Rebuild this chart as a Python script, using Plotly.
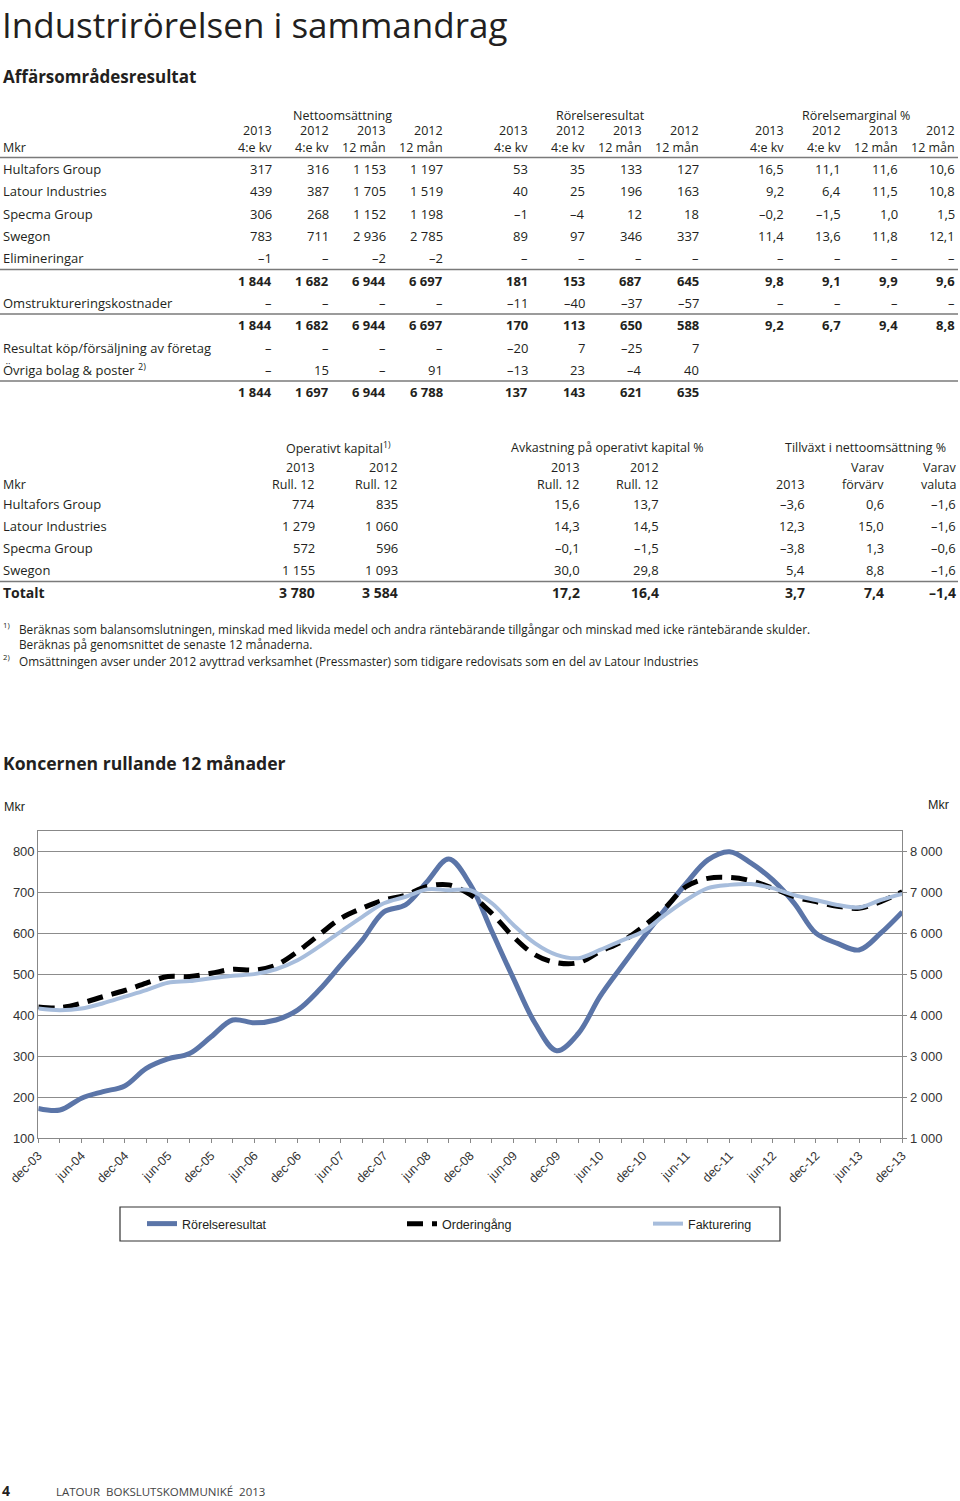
import plotly.graph_objects as go

W, H = 960, 1501
FONT = 'Open Sans, Noto Sans, sans-serif'
ARIAL = 'Liberation Sans, Arial, sans-serif'
NARROW = 'Liberation Sans Narrow, Arial Narrow, Liberation Sans, sans-serif'
INK = '#231f20'
RULE = '#7a7a7a'

# ---- Affärsområdesresultat (table 1)
t1_rows = ['Hultafors Group', 'Latour Industries', 'Specma Group', 'Swegon', 'Elimineringar', '',
           'Omstruktureringskostnader', '', 'Resultat köp/försäljning av företag',
           'Övriga bolag & poster <sup>2)</sup>', '']
t1_bold = [5, 7, 10]
nettoomsattning = [
    ['317', '316', '1 153', '1 197'],
    ['439', '387', '1 705', '1 519'],
    ['306', '268', '1 152', '1 198'],
    ['783', '711', '2 936', '2 785'],
    ['–1', '–', '–2', '–2'],
    ['1 844', '1 682', '6 944', '6 697'],
    ['–', '–', '–', '–'],
    ['1 844', '1 682', '6 944', '6 697'],
    ['–', '–', '–', '–'],
    ['–', '15', '–', '91'],
    ['1 844', '1 697', '6 944', '6 788'],
]
rorelseresultat = [
    ['53', '35', '133', '127'],
    ['40', '25', '196', '163'],
    ['–1', '–4', '12', '18'],
    ['89', '97', '346', '337'],
    ['–', '–', '–', '–'],
    ['181', '153', '687', '645'],
    ['–11', '–40', '–37', '–57'],
    ['170', '113', '650', '588'],
    ['–20', '7', '–25', '7'],
    ['–13', '23', '–4', '40'],
    ['137', '143', '621', '635'],
]
rorelsemarginal = [
    ['16,5', '11,1', '11,6', '10,6'],
    ['9,2', '6,4', '11,5', '10,8'],
    ['–0,2', '–1,5', '1,0', '1,5'],
    ['11,4', '13,6', '11,8', '12,1'],
    ['–', '–', '–', '–'],
    ['9,8', '9,1', '9,9', '9,6'],
    ['–', '–', '–', '–'],
    ['9,2', '6,7', '9,4', '8,8'],
    ['', '', '', ''],
    ['', '', '', ''],
    ['', '', '', ''],
]
t1_years = ['2013', '2012', '2013', '2012']
t1_periods = ['4:e kv', '4:e kv', '12 mån', '12 mån']

# ---- second table
t2_rows = ['Hultafors Group', 'Latour Industries', 'Specma Group', 'Swegon', 'Totalt']
operativt_kapital = [['774', '835'], ['1 279', '1 060'], ['572', '596'], ['1 155', '1 093'], ['3 780', '3 584']]
avkastning = [['15,6', '13,7'], ['14,3', '14,5'], ['–0,1', '–1,5'], ['30,0', '29,8'], ['17,2', '16,4']]
tillvaxt = [['–3,6', '0,6', '–1,6'], ['12,3', '15,0', '–1,6'], ['–3,8', '1,3', '–0,6'],
            ['5,4', '8,8', '–1,6'], ['3,7', '7,4', '–1,4']]

# ---- Koncernen rullande 12 månader (quarterly)
kvartal = ['dec-03', 'mar-04', 'jun-04', 'sep-04', 'dec-04', 'mar-05', 'jun-05', 'sep-05', 'dec-05',
           'mar-06', 'jun-06', 'sep-06', 'dec-06', 'mar-07', 'jun-07', 'sep-07', 'dec-07',
           'mar-08', 'jun-08', 'sep-08', 'dec-08', 'mar-09', 'jun-09', 'sep-09', 'dec-09',
           'mar-10', 'jun-10', 'sep-10', 'dec-10', 'mar-11', 'jun-11', 'sep-11', 'dec-11',
           'mar-12', 'jun-12', 'sep-12', 'dec-12', 'mar-13', 'jun-13', 'sep-13', 'dec-13']
rorelseresultat_mkr = [173, 169, 198, 214, 228, 271, 294, 307, 348, 389, 382, 389, 413, 462, 523, 584,
                       653, 670, 727, 782, 720, 605, 490, 381, 314, 356, 446, 519, 590, 658, 723, 780,
                       800, 772, 731, 674, 601, 576, 560, 601, 653]
orderingang = [4210, 4190, 4300, 4460, 4610, 4790, 4950, 4950, 5030, 5130, 5110, 5230, 5560, 5970, 6370,
               6620, 6820, 6940, 7150, 7190, 6950, 6490, 5920, 5480, 5290, 5290, 5560, 5800, 6170, 6620,
               7150, 7350, 7370, 7290, 7110, 6900, 6780, 6670, 6620, 6780, 7020]
fakturering = [4170, 4130, 4170, 4300, 4460, 4620, 4800, 4840, 4910, 4970, 5010, 5130, 5350, 5680, 6050,
               6410, 6740, 6900, 7080, 7060, 7060, 6740, 6210, 5760, 5480, 5400, 5600, 5830, 6050, 6450,
               6820, 7110, 7190, 7210, 7110, 6940, 6820, 6700, 6640, 6820, 6970]
left_ticks = [100, 200, 300, 400, 500, 600, 700, 800]
right_ticks = [1000, 2000, 3000, 4000, 5000, 6000, 7000, 8000]
right_labels = ['1 000', '2 000', '3 000', '4 000', '5 000', '6 000', '7 000', '8 000']

annotations = []
shapes = []


def px(x):
    return x / W


def py(y):
    return 1 - y / H


def txt(s, x, y, size=13, anchor='left', bold=False, family=FONT, color=INK):
    if bold:
        s = '<b>' + s + '</b>'
    annotations.append(dict(text=s, x=px(x), y=py(y), xref='paper', yref='paper', xanchor=anchor,
                            yanchor='middle', showarrow=False, borderpad=0,
                            font=dict(size=size, family=family, color=color)))


def rule(y, x0=0, x1=958, width=1.5):
    shapes.append(dict(type='line', xref='paper', yref='paper', x0=px(x0), x1=px(x1), y0=py(y), y1=py(y),
                       line=dict(color=RULE, width=width)))


# titles
txt('Industrirörelsen i sammandrag', 1, 24.5, size=35)
txt('Affärsområdesresultat', 2, 77, size=17, bold=True)

# table 1 header
groups1 = [('Nettoomsättning', 342, [273, 330, 387, 444], nettoomsattning),
           ('Rörelseresultat', 600, [529, 586, 643, 700], rorelseresultat),
           ('Rörelsemarginal %', 856, [785, 842, 899, 956], rorelsemarginal)]
txt('Mkr', 2, 148, size=12.5)
for title, cx, cols, vals in groups1:
    txt(title, cx, 115, size=12.5, anchor='center')
    for j, xr in enumerate(cols):
        txt(t1_years[j], xr, 131, size=12.5, anchor='right')
        txt(t1_periods[j], xr, 148, size=12.5, anchor='right')
rule(157.5)

row_y1 = [169, 191, 214, 236, 258, 281, 303, 325, 348, 370, 392]
for i, label in enumerate(t1_rows):
    if label:
        txt(label, 2, row_y1[i])
    for title, cx, cols, vals in groups1:
        for j, xr in enumerate(cols):
            if vals[i][j]:
                txt(vals[i][j], xr, row_y1[i], anchor='right', bold=i in t1_bold)
for yl in [269.5, 314, 381]:
    rule(yl)

# table 2
txt('Operativt kapital<sup>1)</sup>', 338, 448, size=12.5, anchor='center')
txt('Avkastning på operativt kapital %', 607, 448, size=12.5, anchor='center')
txt('Tillväxt i nettoomsättning %', 865, 448, size=12.5, anchor='center')
hdr2 = [(316, '2013', 'Rull. 12'), (399, '2012', 'Rull. 12'), (581, '2013', 'Rull. 12'),
        (660, '2012', 'Rull. 12'), (806, '', '2013'), (885, 'Varav', 'förvärv'), (957, 'Varav', 'valuta')]
txt('Mkr', 2, 484, size=12.5)
for xr, a, b in hdr2:
    if a:
        txt(a, xr, 467, size=12.5, anchor='right')
    txt(b, xr, 484, size=12.5, anchor='right')

row_y2 = [504, 526, 548, 570, 592]
cols2 = [316, 399, 581, 660, 806, 885, 957]
for i, label in enumerate(t2_rows):
    bold = label == 'Totalt'
    txt(label, 2, row_y2[i], size=14 if bold else 13, bold=bold)
    cells = operativt_kapital[i] + avkastning[i] + tillvaxt[i]
    for xr, v in zip(cols2, cells):
        txt(v, xr, row_y2[i], size=14 if bold else 13, anchor='right', bold=bold)
rule(581.5)

# footnotes
txt('<sup>1)</sup>', 2, 625, size=11)
txt('Beräknas som balansomslutningen, minskad med likvida medel och andra räntebärande tillgångar '
    'och minskad med icke räntebärande skulder.', 18, 629, size=11.8)
txt('Beräknas på genomsnittet de senaste 12 månaderna.', 18, 644, size=11.8)
txt('<sup>2)</sup>', 2, 657, size=11)
txt('Omsättningen avser under 2012 avyttrad verksamhet (Pressmaster) som tidigare redovisats som en del '
    'av Latour Industries', 18, 661, size=11.8)

# chart headings
txt('Koncernen rullande 12 månader', 2, 763, size=17.6, bold=True)
txt('Mkr', 3, 807, size=12.5, family=ARIAL)
txt('Mkr', 950, 805, size=12.5, family=ARIAL, anchor='right')

# footer
txt('4', 1, 1490, size=14, bold=True)
txt('LATOUR  BOKSLUTSKOMMUNIKÉ  2013', 55, 1491, size=11.5, color='#444444')

# legend frame
shapes.append(dict(type='rect', xref='paper', yref='paper', x0=px(120), x1=px(780), y0=py(1241), y1=py(1207),
                   line=dict(color='#333333', width=1.2)))

fig = go.Figure()
fig.add_trace(go.Scatter(x=kvartal, y=rorelseresultat_mkr, name='Rörelseresultat', mode='lines',
                         line=dict(color='#5b75a8', width=5, shape='spline', smoothing=1.0),
                         legend='legend'))
fig.add_trace(go.Scatter(x=kvartal, y=orderingang, name='Orderingång', mode='lines', yaxis='y2',
                         line=dict(color='#000000', width=5, dash='16px,9px', shape='spline', smoothing=1.0),
                         legend='legend2'))
fig.add_trace(go.Scatter(x=kvartal, y=fakturering, name='Fakturering', mode='lines', yaxis='y2',
                         line=dict(color='#a7bddc', width=4, shape='spline', smoothing=1.0),
                         legend='legend3'))

tick_text = [k if k.startswith(('dec', 'jun')) else '' for k in kvartal]
y_dom = [py(1138.3), py(831)]

leg = dict(yanchor='middle', y=py(1224), xanchor='left', bgcolor='rgba(0,0,0,0)', borderwidth=0,
           font=dict(family=NARROW, size=12.5, color=INK))

fig.update_layout(
    width=W, height=H, autosize=False,
    margin=dict(l=0, r=0, t=0, b=0, autoexpand=False),
    paper_bgcolor='white', plot_bgcolor='white',
    font=dict(family=FONT, color=INK),
    showlegend=True,
    legend=dict(leg, x=px(142)),
    legend2=dict(leg, x=px(402)),
    legend3=dict(leg, x=px(648)),
    xaxis=dict(domain=[px(38.3), px(902.3)], type='category', range=[0, 40], automargin=False,
               tickvals=kvartal, ticktext=tick_text, tickangle=-45,
               ticks='outside', ticklen=4, tickcolor='#888888',
               tickfont=dict(family=ARIAL, size=12.5, color='#333333'),
               showline=True, linecolor='#888888', linewidth=1.2, mirror=True, showgrid=False),
    yaxis=dict(domain=y_dom, range=[100, 850.6], tickvals=left_ticks, automargin=False,
               tickfont=dict(family=ARIAL, size=13, color='#333333'),
               showgrid=True, gridcolor='#8c8c8c', gridwidth=1, zeroline=False,
               showline=True, linecolor='#888888', linewidth=1.2, mirror=True),
    yaxis2=dict(domain=y_dom, range=[1000, 8506], overlaying='y', side='right', automargin=False,
                tickvals=right_ticks, ticktext=right_labels, showgrid=False, zeroline=False,
                ticks='outside', ticklen=4, tickcolor='#888888',
                tickfont=dict(family=ARIAL, size=13, color='#333333')),
    annotations=annotations,
    shapes=shapes,
)

fig.write_html("out.html", config={'displayModeBar': False},
               post_script="document.body.style.margin='0';")
